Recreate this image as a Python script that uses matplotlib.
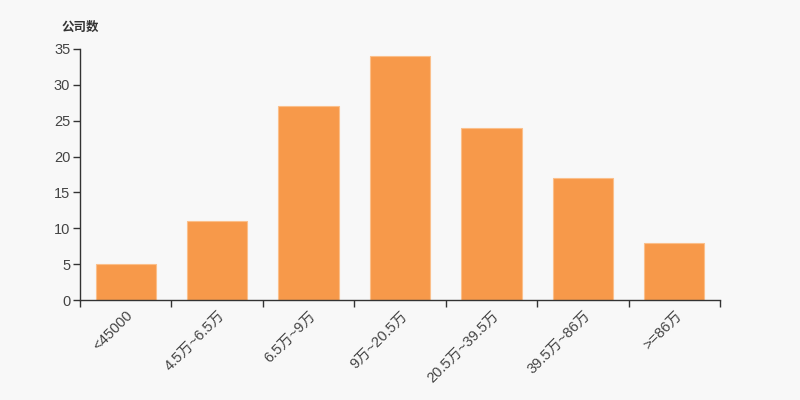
import matplotlib

matplotlib.use("Agg")
import matplotlib.pyplot as plt
import numpy as np

plt.rcParams["font.family"] = ["Liberation Sans", "Noto Sans CJK SC", "DejaVu Sans"]

categories = ["<45000", "4.5万~6.5万", "6.5万~9万", "9万~20.5万",
              "20.5万~39.5万", "39.5万~86万", ">=86万"]
counts = [5, 11, 27, 34, 24, 17, 8]
y_ticks = [0, 5, 10, 15, 20, 25, 30, 35]

bg = "#f8f8f8"
axis_col = "#333333"

fig = plt.figure(figsize=(8, 4), dpi=100, facecolor=bg)
ax = fig.add_axes([0.1, 0.25, 0.8, 0.6275], facecolor=bg)

x = np.arange(len(categories))
ax.bar(x, counts, width=0.66, color="#f7994a", edgecolor="#fbbf8a", linewidth=0.8)

ax.set_xlim(-0.5, len(categories) - 0.5)
ax.set_ylim(0, 35)
ax.set_yticks(y_ticks)
ax.tick_params(axis="y", colors=axis_col, labelcolor="#444444", labelsize=10.5,
               length=5, width=1, pad=2)

# ticks at category boundaries, labels at centres
ax.set_xticks(np.arange(len(categories) + 1) - 0.5)
ax.set_xticklabels([])
ax.tick_params(axis="x", which="major", colors=axis_col, length=5, width=1)
ax.set_xticks(x, minor=True)
ax.set_xticklabels(categories, minor=True, rotation=45, ha="right",
                   rotation_mode="anchor", fontsize=10.5, color="#444444")
ax.tick_params(axis="x", which="minor", length=0, pad=6)

for s in ["top", "right"]:
    ax.spines[s].set_visible(False)
for s in ["left", "bottom"]:
    ax.spines[s].set_color(axis_col)
    ax.spines[s].set_linewidth(1)

fig.text(0.0775, 0.93, "公司数", fontsize=9, fontweight="bold", color="#333333",
         va="center", ha="left")

fig.savefig("out.png", dpi=100, facecolor=bg)
